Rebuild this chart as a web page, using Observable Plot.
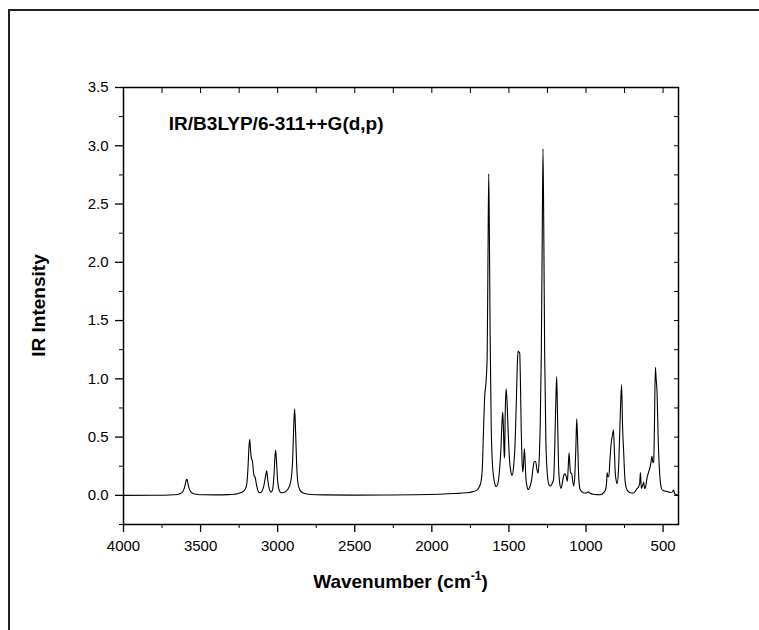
<!DOCTYPE html>
<html><head><meta charset="utf-8">
<script src="https://cdn.jsdelivr.net/npm/d3@7"></script>
<script src="https://cdn.jsdelivr.net/npm/@observablehq/plot@0.6"></script>
<style>
html,body{margin:0;padding:0;background:#fff;}
#wrap{position:relative;width:759px;height:630px;overflow:hidden;background:#fff;}
#border{position:absolute;left:8px;top:9px;width:800px;height:700px;border-top:2px solid #222;border-left:2px solid #222;}
#chart{position:absolute;left:0;top:0;}
</style></head><body>
<div id="wrap"><div id="border"></div><div id="chart"></div></div>
<script>
// Spectrum (wavenumber in cm-1, IR intensity)
const wavenumbers = [4000,3800,3700,3650,3625,3610,3600,3593,3590,3586,3580,3570,3555,3530,3480,3400,3320,3280,3250,3229,3210,3200,3192,3186,3181,3177,3172,3168,3163,3157,3152,3146,3140,3130,3117,3105,3090,3078,3071,3064,3055,3043,3033,3024,3017,3013,3008,3000,2990,2978,2960,2935,2915,2903,2895,2890,2885,2877,2868,2855,2835,2800,2700,2500,2300,2100,1950,1850,1780,1740,1706,1690,1684,1673,1665,1657,1648,1641,1636,1631,1627,1622,1615,1605,1593,1582,1572,1562,1552,1545,1540,1535,1530,1528,1524,1518,1512,1505,1496,1487,1479,1470,1462,1452,1446,1441,1435,1430,1425,1420,1415,1410,1406,1400,1396,1390,1383,1375,1365,1352,1342,1335,1327,1318,1311,1304,1297,1290,1284,1279,1274,1268,1260,1250,1240,1231,1220,1210,1203,1196,1190,1185,1178,1170,1162,1152,1142,1136,1128,1121,1116,1110,1105,1100,1093,1087,1080,1073,1066,1060,1054,1047,1038,1025,1010,995,985,975,955,930,905,885,874,866,863,858,852,845,837,828,822,815,810,803,798,790,782,775,769,763,756,748,738,723,705,690,678,668,660,652,647,641,634,626,620,614,604,597,587,580,572,566,561,556,550,545,539,532,525,518,507,496,480,464,453,440,432,426,415,400];
const intensities = [0,0.001,0.003,0.008,0.02,0.045,0.09,0.132,0.137,0.128,0.09,0.045,0.02,0.01,0.005,0.004,0.006,0.01,0.018,0.03,0.055,0.1,0.25,0.42,0.478,0.41,0.33,0.31,0.29,0.2,0.165,0.155,0.11,0.05,0.022,0.03,0.08,0.17,0.21,0.13,0.06,0.028,0.05,0.17,0.34,0.386,0.3,0.12,0.045,0.022,0.025,0.05,0.12,0.3,0.62,0.743,0.6,0.27,0.1,0.045,0.02,0.01,0.004,0.002,0.003,0.005,0.01,0.016,0.022,0.03,0.045,0.08,0.1,0.22,0.55,0.85,0.98,1.2,2.0,2.759,2.3,1.4,0.6,0.23,0.11,0.075,0.1,0.2,0.4,0.62,0.714,0.55,0.32,0.35,0.7,0.915,0.8,0.55,0.3,0.2,0.172,0.24,0.39,0.8,1.1,1.238,1.23,1.22,0.95,0.55,0.3,0.2,0.25,0.4,0.33,0.15,0.08,0.05,0.07,0.14,0.25,0.29,0.29,0.22,0.19,0.3,0.6,1.2,2.2,2.973,2.3,1.2,0.45,0.17,0.09,0.08,0.1,0.14,0.4,0.8,1.02,0.7,0.25,0.1,0.06,0.12,0.18,0.186,0.16,0.12,0.22,0.366,0.27,0.19,0.19,0.13,0.08,0.16,0.4,0.657,0.45,0.15,0.05,0.03,0.02,0.02,0.03,0.02,0.01,0.006,0.005,0.025,0.045,0.12,0.195,0.16,0.16,0.3,0.443,0.52,0.563,0.35,0.19,0.12,0.1,0.2,0.5,0.8,0.952,0.6,0.38,0.15,0.06,0.03,0.02,0.02,0.04,0.06,0.07,0.1,0.195,0.06,0.08,0.114,0.06,0.07,0.15,0.186,0.23,0.27,0.335,0.28,0.29,0.6,1.1,1.0,0.88,0.5,0.25,0.12,0.05,0.04,0.035,0.03,0.025,0.03,0.045,0.02,0.005,0.0];

const xMajorTicks = [4000,3500,3000,2500,2000,1500,1000,500];
const xMinorTicks = [3750,3250,2750,2250,1750,1250,750];
const xTopTicks = [3750,3500,3250,3000,2750,2500,2250,2000,1750,1500,1250,1000,750,500];
const yMajorTicks = [0,0.5,1,1.5,2,2.5,3,3.5];
const yMinorTicks = [-0.25,0.25,0.75,1.25,1.75,2.25,2.75,3.25];
const yRightTicks = [0,0.25,0.5,0.75,1,1.25,1.5,1.75,2,2.25,2.5,2.75,3,3.25];
const xDomain = [4000, 400];
const yDomain = [-0.25, 3.5];
const annotation = "IR/B3LYP/6-311++G(d,p)";
const annotationAt = {x: 3706, y: 3.19};
const xTitle = "Wavenumber (cm";
const xTitleSup = "-1";
const yTitle = "IR Intensity";

const data = wavenumbers.map((w, i) => ({w, v: intensities[i]}));
const mL = 123, mR = 81, mT = 87, mB = 106, W = 759, H = 630;

const plot = Plot.plot({
  width: W, height: H,
  marginLeft: mL, marginRight: mR, marginTop: mT, marginBottom: mB,
  style: {fontFamily: "'Liberation Sans', Arial, sans-serif", fontSize: "15px", color: "#000", background: "transparent"},
  x: {domain: xDomain},
  y: {domain: yDomain},
  marks: [
    Plot.line(data, {x: "w", y: "v", stroke: "#000", strokeWidth: 1.1, curve: "monotone-x"}),
    Plot.frame({stroke: "#000", strokeWidth: 1.5}),
    Plot.axisX(xMajorTicks, {anchor: "bottom", tickSize: 8, tickPadding: 8, tickFormat: d => String(d), label: null, strokeWidth: 1.3}),
    Plot.axisX(xMinorTicks, {anchor: "bottom", tickSize: 4, tickFormat: () => "", label: null}),
    Plot.axisX(xTopTicks, {anchor: "top", tickSize: -5, tickFormat: () => "", label: null}),
    Plot.axisY(yMajorTicks, {anchor: "left", tickSize: 8, tickPadding: 7, tickFormat: d3.format(".1f"), label: null, strokeWidth: 1.3}),
    Plot.axisY(yMinorTicks, {anchor: "left", tickSize: 4, tickFormat: () => "", label: null}),
    Plot.axisY(yRightTicks, {anchor: "right", tickSize: -5, tickFormat: () => "", label: null}),
    Plot.text([annotation], {x: annotationAt.x, y: annotationAt.y, text: d => d, textAnchor: "start", fontWeight: "bold", fontSize: 19})
  ]
});

const svg = d3.select(plot);
const cx = mL + (W - mL - mR) / 2;
const cy = mT + (H - mT - mB) / 2;
svg.append("text")
  .attr("transform", `translate(40,${cy}) rotate(-90)`)
  .attr("text-anchor", "middle").attr("dominant-baseline", "middle")
  .attr("font-weight", "bold").attr("font-size", 19).attr("fill", "#000")
  .text(yTitle);
const xt = svg.append("text")
  .attr("x", cx).attr("y", 588)
  .attr("text-anchor", "middle")
  .attr("font-weight", "bold").attr("font-size", 19).attr("fill", "#000");
xt.append("tspan").text(xTitle);
xt.append("tspan").attr("font-size", 12).attr("dy", -8).text(xTitleSup);
xt.append("tspan").attr("dy", 8).text(")");

document.getElementById("chart").appendChild(plot);
</script>
</body></html>
